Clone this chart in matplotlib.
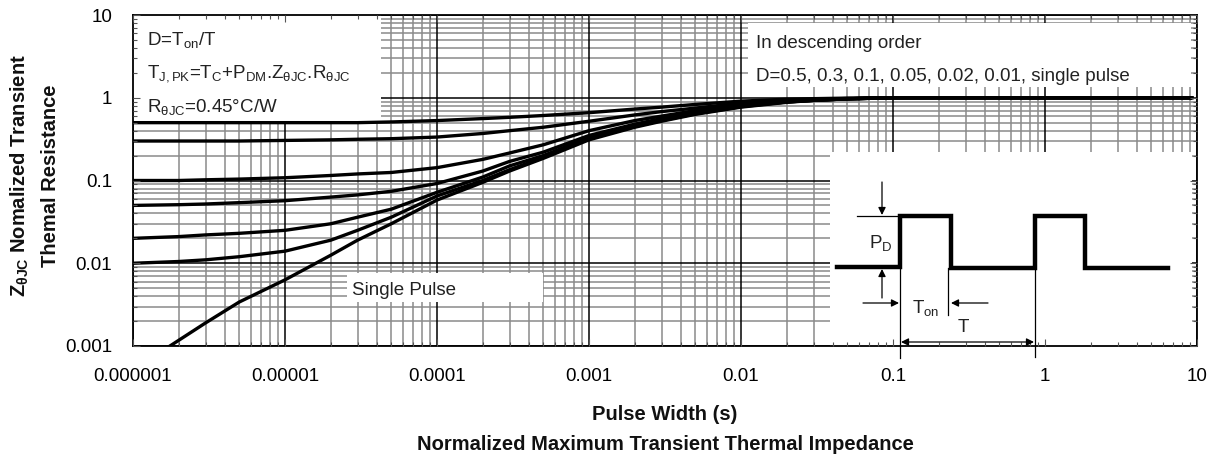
import matplotlib
matplotlib.use('Agg')
import matplotlib.pyplot as plt
from matplotlib.patches import Rectangle
from matplotlib.ticker import NullFormatter, LogLocator

plt.rcParams['font.family'] = ['Liberation Sans', 'DejaVu Sans']
plt.rcParams['mathtext.fontset'] = 'custom'
plt.rcParams['mathtext.rm'] = 'Liberation Sans'
plt.rcParams['mathtext.it'] = 'Liberation Sans'
plt.rcParams['mathtext.bf'] = 'Liberation Sans:bold'

# pulse width (s) sample points
pulse_width = [1e-6, 2e-6, 3e-6, 5e-6, 1e-5, 2e-5, 3e-5, 5e-5, 1e-4, 2e-4, 3e-4, 5e-4,
               1e-3, 2e-3, 3e-3, 5e-3, 1e-2, 2e-2, 3e-2, 5e-2, 1e-1, 0.3, 1.0, 9.3]

z_d050 = [0.5, 0.5, 0.5, 0.5, 0.5, 0.5, 0.5, 0.51, 0.53, 0.56, 0.58, 0.61,
          0.66, 0.73, 0.77, 0.83, 0.91, 0.96, 0.975, 0.99, 1.0, 1.0, 1.0, 1.0]
z_d030 = [0.3, 0.3, 0.3, 0.3, 0.305, 0.31, 0.315, 0.32, 0.335, 0.37, 0.4, 0.44,
          0.52, 0.62, 0.68, 0.75, 0.86, 0.93, 0.95, 0.98, 1.0, 1.0, 1.0, 1.0]
z_d010 = [0.1, 0.1, 0.102, 0.104, 0.108, 0.115, 0.12, 0.125, 0.143, 0.18, 0.215, 0.27,
          0.4, 0.53, 0.6, 0.7, 0.82, 0.91, 0.94, 0.97, 1.0, 1.0, 1.0, 1.0]
z_d005 = [0.05, 0.051, 0.052, 0.054, 0.057, 0.063, 0.067, 0.074, 0.092, 0.13, 0.17, 0.22,
          0.35, 0.48, 0.56, 0.66, 0.8, 0.9, 0.93, 0.97, 1.0, 1.0, 1.0, 1.0]
z_d002 = [0.02, 0.021, 0.022, 0.023, 0.025, 0.03, 0.036, 0.045, 0.072, 0.11, 0.15, 0.2,
          0.33, 0.46, 0.54, 0.65, 0.79, 0.89, 0.93, 0.97, 1.0, 1.0, 1.0, 1.0]
z_d001 = [0.01, 0.0105, 0.011, 0.012, 0.014, 0.019, 0.025, 0.036, 0.065, 0.1, 0.135, 0.19,
          0.32, 0.45, 0.53, 0.64, 0.78, 0.89, 0.93, 0.97, 1.0, 1.0, 1.0, 1.0]

single_width = [1.75e-6, 3e-6, 5e-6, 1e-5, 2e-5, 3e-5, 5e-5, 1e-4, 2e-4, 3e-4, 5e-4,
                1e-3, 2e-3, 3e-3, 5e-3, 1e-2, 2e-2, 3e-2, 5e-2, 1e-1, 0.3, 1.0, 9.3]
z_single = [0.001, 0.0019, 0.0034, 0.0063, 0.0125, 0.019, 0.03, 0.058, 0.095, 0.13, 0.185,
            0.31, 0.44, 0.52, 0.63, 0.77, 0.88, 0.93, 0.97, 1.0, 1.0, 1.0, 1.0]

x_ticks = [1e-6, 1e-5, 1e-4, 1e-3, 1e-2, 1e-1, 1, 10]
x_labels = ['0.000001', '0.00001', '0.0001', '0.001', '0.01', '0.1', '1', '10']
y_ticks = [1e-3, 1e-2, 1e-1, 1, 10]
y_labels = ['0.001', '0.01', '0.1', '1', '10']

W, H = 1222, 455
L, R, T, B = 133, 1197, 15, 346


def ax_xy(px, py):
    # reference pixel -> axes fraction, used for boxes and the schematic only
    return (px - L) / (R - L), (B - py) / (B - T)


def main():
    fig = plt.figure(figsize=(W / 100, H / 100), dpi=100)
    ax = fig.add_axes([L / W, 1 - B / H, (R - L) / W, (B - T) / H])
    ax.set_xscale('log')
    ax.set_yscale('log')
    ax.set_xlim(1e-6, 10)
    ax.set_ylim(1e-3, 10)

    # grid drawn by hand so the white boxes can hide it but not the ticks
    for k in range(-6, 2):
        ax.axvline(10.0 ** k, color='black', lw=1.1, zorder=0.6)
        if k < 1:
            for m in range(2, 10):
                ax.axvline(m * 10.0 ** k, color='#8a8a8a', lw=1.1, zorder=0.5)
    for k in range(-3, 2):
        ax.axhline(10.0 ** k, color='black', lw=1.1, zorder=0.6)
        if k < 1:
            for m in range(2, 10):
                ax.axhline(m * 10.0 ** k, color='#8a8a8a', lw=1.1, zorder=0.5)

    boxes = [(133, 15, 381, 123), (748, 23, 1191, 87),
             (347, 273, 543, 302), (830, 152, 1192, 346)]
    for x0, y0, x1, y1 in boxes:
        fx0, fy1 = ax_xy(x0, y0)
        fx1, fy0 = ax_xy(x1, y1)
        ax.add_patch(Rectangle((fx0, fy0), fx1 - fx0, fy1 - fy0,
                               transform=ax.transAxes, facecolor='white',
                               edgecolor='none', zorder=1))

    for zs in (z_d050, z_d030, z_d010, z_d005, z_d002, z_d001):
        ax.plot(pulse_width, zs, color='black', lw=2.4, zorder=2,
                solid_joinstyle='round', solid_capstyle='butt')
    ax.plot(single_width, z_single, color='black', lw=2.4, zorder=2,
            solid_joinstyle='round')

    ax.set_axisbelow(False)
    ax.set_xticks(x_ticks, x_labels)
    ax.set_yticks(y_ticks, y_labels)
    ax.xaxis.set_minor_locator(LogLocator(base=10, subs=range(2, 10), numticks=20))
    ax.yaxis.set_minor_locator(LogLocator(base=10, subs=range(2, 10), numticks=20))
    ax.xaxis.set_minor_formatter(NullFormatter())
    ax.yaxis.set_minor_formatter(NullFormatter())
    ax.tick_params(which='both', direction='in', top=True, right=True,
                   color='#555555', width=0.8)
    ax.tick_params(which='major', length=5)
    ax.tick_params(which='minor', length=3)
    ax.tick_params(axis='x', labelsize=13.5, pad=16)
    ax.tick_params(axis='y', labelsize=13.5, pad=15)
    for s in ax.spines.values():
        s.set_linewidth(1.3)

    txt = dict(transform=ax.transAxes, fontsize=13.5, color='#222222', zorder=3)
    ax.text(*ax_xy(147, 45), 'D=T$_{\\mathrm{on}}$/T', **txt)
    ax.text(*ax_xy(147, 77),
            'T$_{\\mathrm{J,PK}}$=T$_{\\mathrm{C}}$+P$_{\\mathrm{DM}}$.Z$_{\\mathrm{θJC}}$.R$_{\\mathrm{θJC}}$',
            **txt)
    ax.text(*ax_xy(147, 112), 'R$_{\\mathrm{θJC}}$=0.45°C/W', **txt)
    ax.text(*ax_xy(756, 48), 'In descending order', **txt)
    ax.text(*ax_xy(756, 81), 'D=0.5, 0.3, 0.1, 0.05, 0.02, 0.01, single pulse', **txt)
    ax.text(*ax_xy(352, 295), 'Single Pulse', **txt)

    # duty cycle schematic
    thick = dict(color='black', lw=3.2, transform=ax.transAxes, zorder=3,
                 solid_joinstyle='miter', clip_on=False)
    thin = dict(color='black', lw=0.9, transform=ax.transAxes, zorder=3,
                clip_on=False)
    wave_px = [837, 900, 900, 951, 951, 1035, 1035, 1085, 1085, 1168]
    wave_py = [267, 267, 216, 216, 268, 268, 216, 216, 268, 268]
    pts = [ax_xy(a, b) for a, b in zip(wave_px, wave_py)]
    ax.plot([p[0] for p in pts], [p[1] for p in pts], **thick)

    def seg(x0, y0, x1, y1):
        a, b = ax_xy(x0, y0), ax_xy(x1, y1)
        ax.plot([a[0], b[0]], [a[1], b[1]], **thin)

    def arrow(x0, y0, x1, y1, style='-|>'):
        ax.annotate('', xy=ax_xy(x1, y1), xytext=ax_xy(x0, y0),
                    xycoords='axes fraction', textcoords='axes fraction',
                    arrowprops=dict(arrowstyle=style, color='black', lw=0.9,
                                    mutation_scale=11, shrinkA=0, shrinkB=0),
                    zorder=3, annotation_clip=False)

    seg(857, 216, 900, 216)
    seg(900, 216, 900, 358)
    seg(948, 268, 948, 315)
    seg(1035, 268, 1035, 357)
    arrow(882, 182, 882, 215)
    arrow(882, 298, 882, 269)
    arrow(863, 303, 899, 303)
    arrow(988, 303, 951, 303)
    arrow(901, 342, 1034, 342, style='<|-|>')
    sch = dict(transform=ax.transAxes, fontsize=13.5, color='#222222',
               zorder=3, ha='center', va='center')
    ax.text(*ax_xy(881, 243), 'P$_{\\mathrm{D}}$', **sch)
    ax.text(*ax_xy(926, 308), 'T$_{\\mathrm{on}}$', **sch)
    ax.text(*ax_xy(963, 327), 'T', **sch)

    lab = dict(fontsize=14.5, fontweight='bold', color='#111111', ha='center', va='center')
    fig.text(665 / W, 1 - 414 / H, 'Pulse Width (s)', **lab)
    fig.text(665 / W, 1 - 445 / H, 'Normalized Maximum Transient Thermal Impedance', **lab)
    fig.text(20 / W, 1 - 176 / H, 'Z$_{\\mathbf{θJC}}$ Nomalized Transient',
             rotation=90, **lab)
    fig.text(51 / W, 1 - 176 / H, 'Themal Resistance', rotation=90, **lab)

    fig.savefig('out.png', dpi=100)


if __name__ == '__main__':
    main()
